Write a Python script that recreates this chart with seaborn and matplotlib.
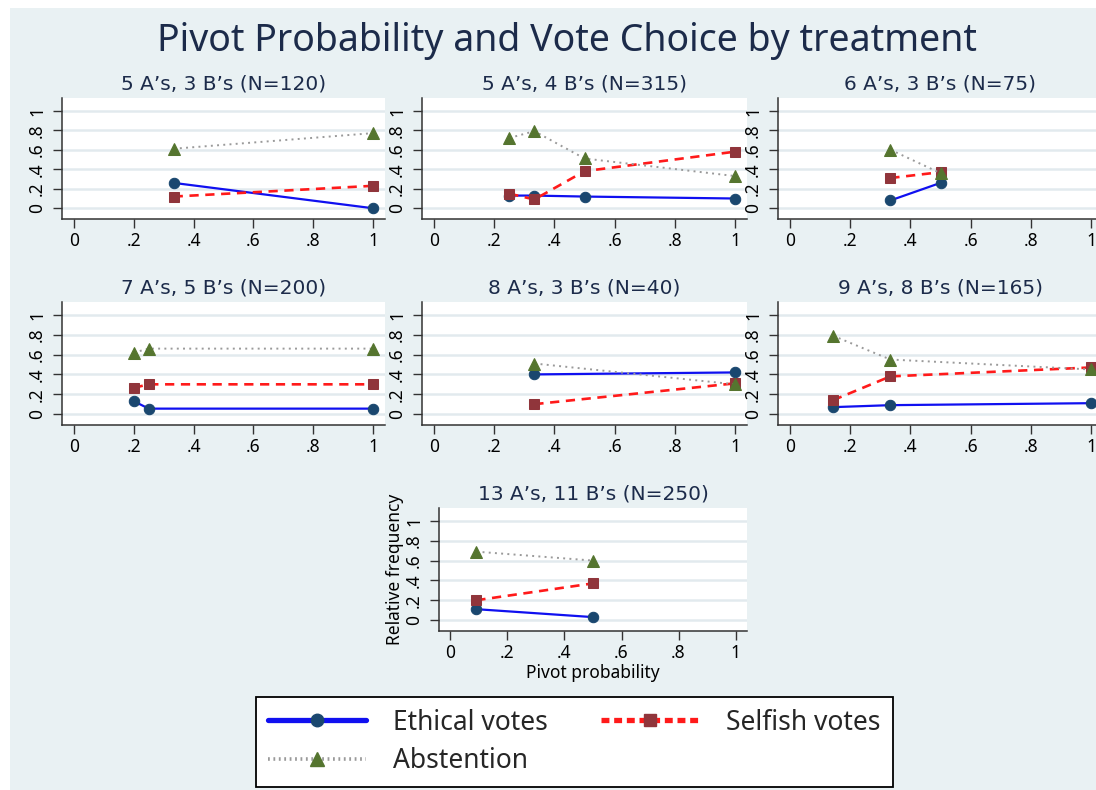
import matplotlib
matplotlib.use("Agg")
import matplotlib.pyplot as plt
from matplotlib.patches import Rectangle
from matplotlib.lines import Line2D
import seaborn as sns
import pandas as pd

sns.set_theme(style="white")
plt.rcParams["font.family"] = ["Noto Sans", "DejaVu Sans"]

# Treatment panels
panel_titles = [
    "5 A\u2019s, 3 B\u2019s (N=120)",
    "5 A\u2019s, 4 B\u2019s (N=315)",
    "6 A\u2019s, 3 B\u2019s (N=75)",
    "7 A\u2019s, 5 B\u2019s (N=200)",
    "8 A\u2019s, 3 B\u2019s (N=40)",
    "9 A\u2019s, 8 B\u2019s (N=165)",
    "13 A\u2019s, 11 B\u2019s (N=250)",
]

# Pivot probabilities observed in each treatment
pivot_prob = [
    [1 / 3, 1.0],
    [0.25, 1 / 3, 0.5, 1.0],
    [1 / 3, 0.5],
    [0.2, 0.25, 1.0],
    [1 / 3, 1.0],
    [1 / 7, 1 / 3, 1.0],
    [1 / 11, 0.5],
]

# Relative frequencies of each vote choice
ethical = [
    [0.26, 0.0],
    [0.13, 0.13, 0.12, 0.10],
    [0.08, 0.26],
    [0.13, 0.055, 0.055],
    [0.40, 0.42],
    [0.07, 0.09, 0.11],
    [0.11, 0.03],
]
selfish = [
    [0.12, 0.23],
    [0.15, 0.09, 0.38, 0.58],
    [0.31, 0.37],
    [0.265, 0.30, 0.30],
    [0.10, 0.31],
    [0.14, 0.38, 0.47],
    [0.20, 0.37],
]
abstention = [
    [0.61, 0.77],
    [0.72, 0.79, 0.51, 0.33],
    [0.60, 0.36],
    [0.62, 0.66, 0.66],
    [0.51, 0.30],
    [0.79, 0.55, 0.45],
    [0.69, 0.60],
]

series_names = ["Ethical votes", "Selfish votes", "Abstention"]
series_data = [ethical, selfish, abstention]

BG = "#e9f1f3"
NAVY = "#1a476f"
MAROON = "#90353b"
GREEN = "#55752f"
TEXT = "#1c2b4a"
GRID = "#e2eaee"

styles = {
    "Ethical votes": dict(color="#1010f0", linestyle="-", linewidth=1.6, marker="o",
                          markerfacecolor=NAVY, markeredgecolor=NAVY, markersize=7.5),
    "Selfish votes": dict(color="#ff1a1a", linestyle=(0, (3.5, 2.5)), linewidth=1.9, marker="s",
                          markerfacecolor=MAROON, markeredgecolor=MAROON, markersize=7.5),
    "Abstention": dict(color="#9a9a9a", linestyle=(0, (1, 2.2)), linewidth=1.4, marker="^",
                       markerfacecolor=GREEN, markeredgecolor=GREEN, markersize=8.5),
}

legend_lines = {
    "Ethical votes": dict(linewidth=3.8, linestyle="-", markersize=9),
    "Selfish votes": dict(linewidth=3.8, linestyle=(0, (1.5, 0.9)), markersize=9),
    "Abstention": dict(linewidth=2.6, linestyle=(0, (0.5, 1.0)), markersize=10),
}

W, H = 1096, 790
fig = plt.figure(figsize=(W / 100, H / 100), dpi=100, facecolor="white")
fig.patches.append(Rectangle((10 / W, 0), 1, 1 - 8 / H, transform=fig.transFigure,
                             facecolor=BG, edgecolor="none", zorder=-10))

# axes boxes in pixels: left, top, right, bottom
boxes = [
    (62, 98, 385, 219), (422, 98, 747, 219), (778, 98, 1103, 219),
    (62, 302, 385, 425), (422, 302, 747, 425), (778, 302, 1103, 425),
    (439, 508, 747, 631),
]

ticks = [0, 0.2, 0.4, 0.6, 0.8, 1.0]
tick_labels = ["0", ".2", ".4", ".6", ".8", "1"]

for i, (l, t, r, b) in enumerate(boxes):
    ax = fig.add_axes([l / W, 1 - b / H, (r - l) / W, (b - t) / H])
    ax.set_facecolor("white")
    for y in ticks:
        ax.axhline(y, color=GRID, linewidth=1.8, zorder=0)
    for name, data in zip(series_names, series_data):
        df = pd.DataFrame({"pivot": pivot_prob[i], "freq": data[i]})
        sns.lineplot(data=df, x="pivot", y="freq", ax=ax, clip_on=False, zorder=3,
                     **styles[name])
    ax.set_xlim(-0.04, 1.04)
    ax.set_ylim(-0.11, 1.13)
    ax.set_xticks(ticks)
    ax.set_xticklabels(tick_labels, fontsize=12.5, color="black")
    ax.set_yticks(ticks)
    ax.set_yticklabels(tick_labels, fontsize=12.5, color="black", rotation=90, va="center")
    ax.tick_params(axis="both", direction="out", length=6.5, width=1, color="#333333",
                   left=True, bottom=True)
    ax.tick_params(axis="y", pad=5)
    ax.tick_params(axis="x", pad=3)
    for side in ["top", "right"]:
        ax.spines[side].set_visible(False)
    for side in ["left", "bottom"]:
        ax.spines[side].set_color("#333333")
        ax.spines[side].set_linewidth(1.1)
    ax.set_title(panel_titles[i], fontsize=14.5, color=TEXT, pad=6,
                 family=["DejaVu Sans"])
    if i == 6:
        ax.set_xlabel("Pivot probability", fontsize=12.5, color="black", labelpad=1)
        ax.set_ylabel("Relative frequency", fontsize=12.5, color="black", labelpad=1)
    else:
        ax.set_xlabel("")
        ax.set_ylabel("")

fig.text(567 / W, 1 - 41 / H, "Pivot Probability and Vote Choice by treatment",
         ha="center", va="center", fontsize=27, color=TEXT)

# two-column legend: Ethical / Selfish on the first row, Abstention below
order = ["Ethical votes", "Abstention", "Selfish votes"]
handles = []
for name in order:
    st = dict(styles[name])
    st.update(legend_lines[name])
    handles.append(Line2D([], [], **st))

leg = fig.legend(handles, order, ncol=2, loc="center",
                 bbox_to_anchor=((246 + 903) / 2 / W, 1 - 742 / H),
                 frameon=True, fontsize=19, handlelength=3.7, columnspacing=2.0,
                 handletextpad=1.05, labelspacing=0.4, borderpad=0.45,
                 borderaxespad=0, fancybox=False, framealpha=1)
leg.get_frame().set_edgecolor("black")
leg.get_frame().set_linewidth(1.3)
leg.get_frame().set_facecolor("white")

fig.savefig("out.png", dpi=100, facecolor=fig.get_facecolor())
